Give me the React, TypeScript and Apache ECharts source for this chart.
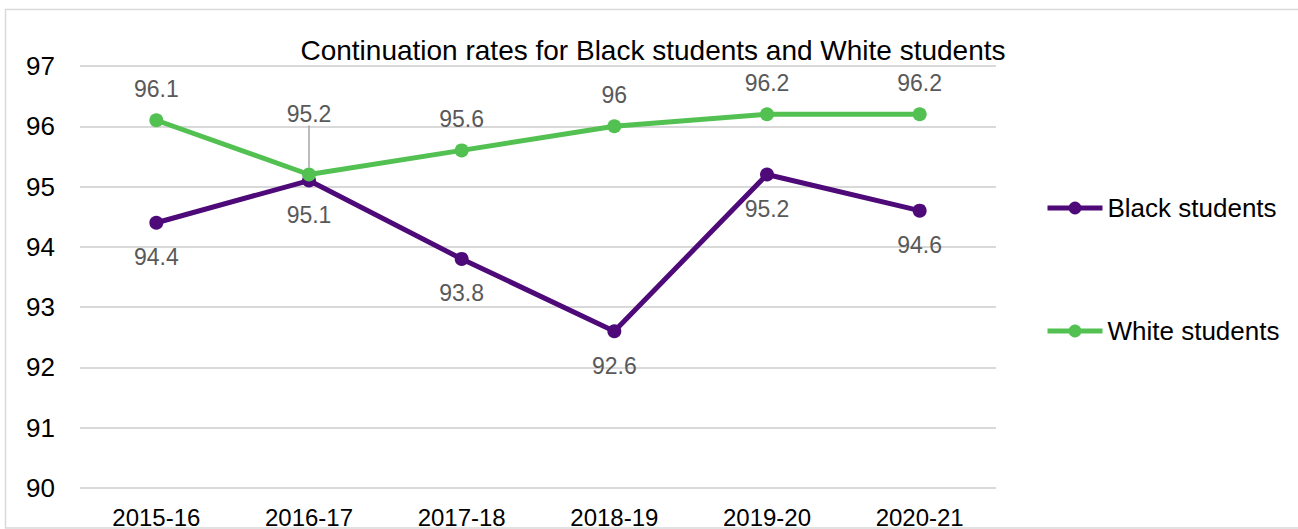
import React, { useEffect, useRef } from "react";
import * as echarts from "echarts";

const categories = ["2015-16", "2016-17", "2017-18", "2018-19", "2019-20", "2020-21"];
const blackStudents = [94.4, 95.1, 93.8, 92.6, 95.2, 94.6];
const whiteStudents = [96.1, 95.2, 95.6, 96, 96.2, 96.2];
const yTicks = { min: 90, max: 97, interval: 1 };
const titleText = "Continuation rates for Black students and White students";

const FONT = "'Liberation Sans', Arial, sans-serif";
const PURPLE = "#4E0A78";
const GREEN = "#52C152";
const MOVED_WHITE_LABEL = 1;

export default function App() {
  const ref = useRef<HTMLDivElement>(null);
  useEffect(() => {
    if (!ref.current) return;
    const chart = echarts.init(ref.current, null, { renderer: "svg" });
    const whiteData = whiteStudents.map((v, i) =>
      i === MOVED_WHITE_LABEL
        ? { value: v, labelLine: { show: true, lineStyle: { color: "#a6a6a6", width: 1.5 } } }
        : v
    );
    chart.setOption({
      animation: false,
      backgroundColor: "#ffffff",
      textStyle: { fontFamily: FONT },
      title: {
        text: titleText,
        left: 648,
        textAlign: "center",
        top: 31,
        textStyle: { fontFamily: FONT, fontSize: 28, fontWeight: "normal", color: "#000000" },
      },
      graphic: [
        {
          type: "rect",
          shape: { x: 5.5, y: 9.5, width: 1300, height: 518.5 },
          style: { fill: "none", stroke: "#d9d9d9", lineWidth: 1.5 },
          silent: true,
          z: -1,
        },
      ],
      legend: {
        orient: "vertical",
        left: 1045,
        top: 195,
        padding: 0,
        itemGap: 97,
        itemWidth: 55,
        itemHeight: 16,
        lineStyle: { width: 5 },
        textStyle: { fontFamily: FONT, fontSize: 26, color: "#000000" },
        data: ["Black students", "White students"],
      },
      grid: { left: 80, right: 302, top: 66, bottom: 40, containLabel: false },
      xAxis: {
        type: "category",
        data: categories,
        boundaryGap: true,
        axisLine: { show: false },
        axisTick: { show: false },
        axisLabel: { fontFamily: FONT, fontSize: 24, color: "#000000", margin: 17 },
      },
      yAxis: {
        type: "value",
        min: yTicks.min,
        max: yTicks.max,
        interval: yTicks.interval,
        axisLine: { show: false },
        axisTick: { show: false },
        splitLine: { lineStyle: { color: "#d9d9d9", width: 2 } },
        axisLabel: { fontFamily: FONT, fontSize: 26, color: "#000000", margin: 25 },
      },
      series: [
        {
          name: "Black students",
          type: "line",
          data: blackStudents,
          symbol: "circle",
          symbolSize: 14,
          lineStyle: { color: PURPLE, width: 5 },
          itemStyle: { color: PURPLE },
          label: {
            show: true,
            position: "bottom",
            distance: 16,
            fontFamily: FONT,
            fontSize: 23,
            color: "#595959",
          },
        },
        {
          name: "White students",
          type: "line",
          data: whiteData,
          symbol: "circle",
          symbolSize: 14,
          lineStyle: { color: GREEN, width: 5 },
          itemStyle: { color: GREEN },
          label: {
            show: true,
            position: "top",
            distance: 13,
            fontFamily: FONT,
            fontSize: 23,
            color: "#595959",
          },
          labelLayout: (params: any) =>
            params.dataIndex === MOVED_WHITE_LABEL ? { dy: -29 } : {},
        },
      ],
    });
    return () => chart.dispose();
  }, []);
  return (
    <div
      ref={ref}
      style={{ position: "fixed", left: 0, top: 0, width: 1298, height: 529 }}
    />
  );
}
